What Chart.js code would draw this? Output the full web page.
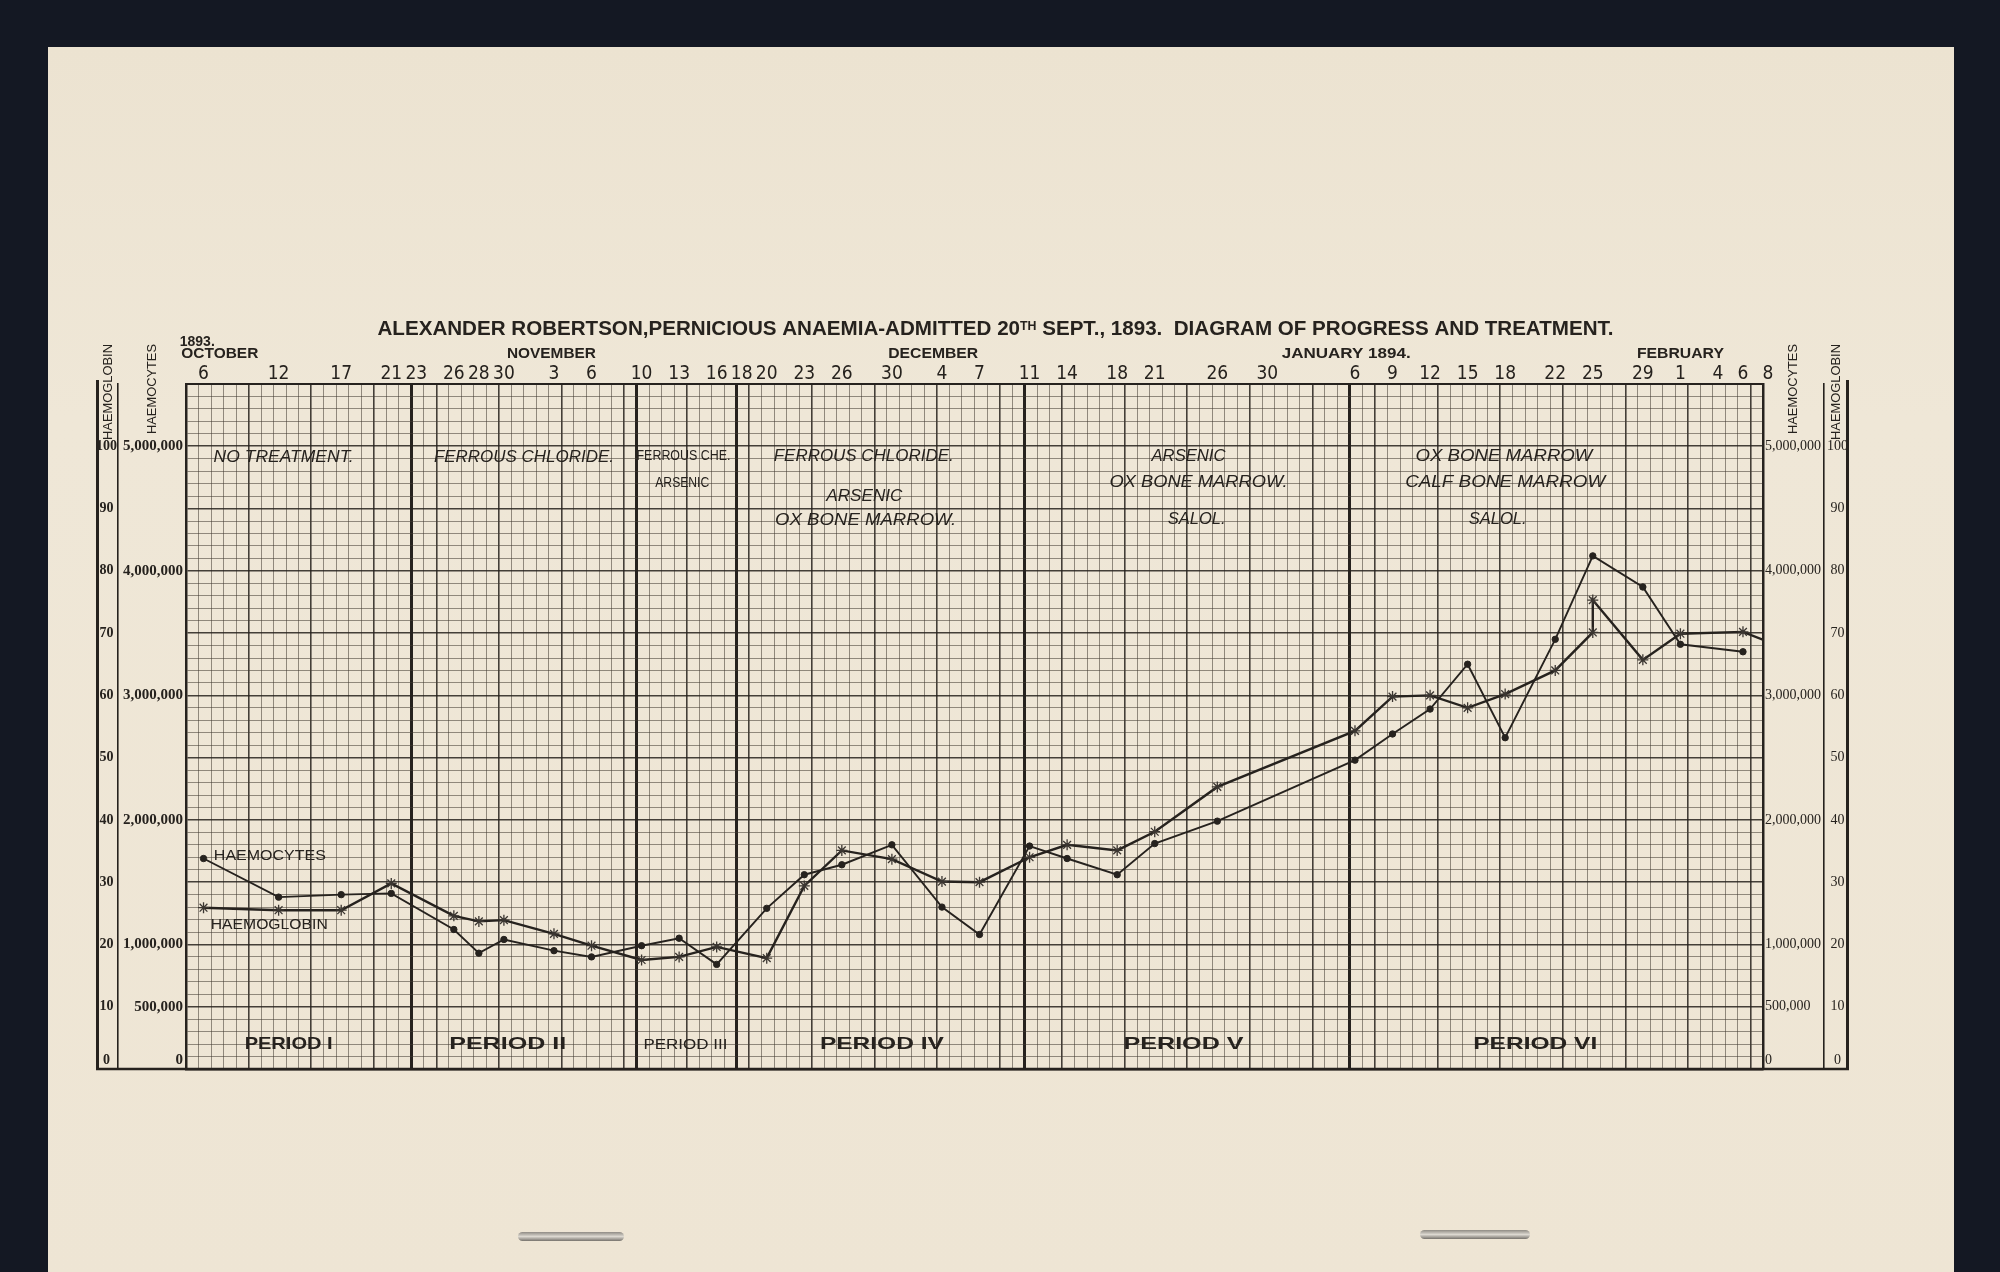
<!DOCTYPE html>
<html>
<head>
<meta charset="utf-8">
<title>Alexander Robertson - Diagram of progress and treatment</title>
<script src="https://cdn.jsdelivr.net/npm/chart.js@4.4.1/dist/chart.umd.min.js"></script>
<style>
  html, body { margin: 0; padding: 0; }
  body { width: 2000px; height: 1272px; overflow: hidden; position: relative; background: #141823; }
  .paper { position: absolute; left: 48px; top: 47px; width: 1906px; height: 1240px;
           background: linear-gradient(180deg, #ece3d1 0%, #efe7d7 30%, #eee5d4 100%); }
  .staple { position: absolute; height: 9px; border-radius: 5px;
            background: linear-gradient(#8f8b84, #dcd8d0 50%, #76726c); }
  #chart { position: absolute; left: 0; top: 0; }
</style>
</head>
<body>
<div class="paper"></div>
<div class="staple" style="left:518px;top:1232px;width:106px"></div>
<div class="staple" style="left:1420px;top:1230px;width:110px"></div>
<canvas id="chart" width="2000" height="1272"></canvas>
<script>
// days are counted from 6 October 1893
const DATE_DAYS = [0, 6, 11, 15, 17, 20, 22, 24, 28, 31, 35, 38, 41, 43, 45, 48, 51, 55, 59, 62,
  66, 69, 73, 76, 81, 85, 92, 95, 98, 101, 104, 108, 111, 115, 118, 121, 123, 125];
const DATE_LABELS = ['6', '12', '17', '21', '23', '26', '28', '30', '3', '6', '10', '13', '16', '18', '20', '23',
  '26', '30', '4', '7', '11', '14', '18', '21', '26', '30', '6', '9', '12', '15', '18', '22', '25', '29',
  '1', '4', '6', '8'];
const MONTH_LABELS = ['1893.', 'OCTOBER', 'NOVEMBER', 'DECEMBER', 'JANUARY 1894.', 'FEBRUARY'];
const MONTH_DAYS = [-0.5, 1.3, 27.8, 58.3, 91.3, 118.0];

const HC_DAYS = [0, 6, 11, 15, 20, 22, 24, 28, 31, 35, 38, 41, 45, 48, 51, 55, 59, 62, 66, 69, 73, 76, 81,
  92, 95, 98, 101, 104, 108, 111, 115, 118, 123];
const HAEMOCYTES = [1690000, 1380000, 1400000, 1410000, 1120000, 930000, 1040000, 950000, 900000, 990000,
  1050000, 840000, 1290000, 1560000, 1640000, 1800000, 1300000, 1080000, 1790000, 1690000, 1560000,
  1810000, 1990000, 2480000, 2690000, 2890000, 3250000, 2660000, 3450000, 4120000, 3870000, 3410000, 3350000];

const HB_DAYS = [0, 6, 11, 15, 20, 22, 24, 28, 31, 35, 38, 41, 45, 48, 51, 55, 59, 62, 66, 69, 73, 76, 81,
  92, 95, 98, 101, 104, 108, 111, 111, 115, 118, 123, 125];
const HAEMOGLOBIN = [25.9, 25.5, 25.5, 29.8, 24.6, 23.7, 23.9, 21.7, 19.8, 17.5, 18.0, 19.6, 17.8, 29.4,
  35.1, 33.7, 30.1, 30.0, 34.0, 36.0, 35.1, 38.1, 45.3, 54.3, 59.8, 60.0, 58.0, 60.2, 64.0, 70.1, 75.3,
  65.7, 69.9, 70.2, 68.6];

const HC_TICKS = [0, 500000, 1000000, 2000000, 3000000, 4000000, 5000000];
const HB_TICKS = [0, 10, 20, 30, 40, 50, 60, 70, 80, 90, 100];
const PERIOD_BOUNDS = [16.6, 34.6, 42.6, 65.6, 91.6];

const PERIOD_NAMES = ['PERIOD I', 'PERIOD II', 'PERIOD III', 'PERIOD IV', 'PERIOD V', 'PERIOD VI'];

// paper grid: one small square per day, 100,000 cells per square
const X_MIN = -1.4;
const X_MAX = X_MIN + 126;
const HC_MAX = 5500000;
const HB_MAX = 110;

const INK = '#26221e';
const BOLD_GRID = 'rgba(38,33,28,0.85)';
const FINE_GRID = 'rgba(66,58,50,0.55)';

const SANS = '"Liberation Sans", Arial, sans-serif';
const SERIF = '"Liberation Serif", "Times New Roman", serif';
const ITALIC = 'italic 17px ' + SANS;
const SMALL = '14px ' + SANS;

const NOTES = [
  { text: 'NO TREATMENT.', day: 6.4, dy: 73, w: 140, font: ITALIC },
  { text: 'FERROUS CHLORIDE.', day: 25.6, dy: 73, w: 180, font: ITALIC },
  { text: 'FERROUS CHE.', day: 38.35, dy: 72, w: 94, font: SMALL },
  { text: 'ARSENIC', day: 38.25, dy: 99, w: 54, font: SMALL },
  { text: 'FERROUS CHLORIDE.', day: 52.75, dy: 72, w: 180, font: ITALIC },
  { text: 'ARSENIC', day: 52.8, dy: 112, w: 76, font: ITALIC },
  { text: 'OX BONE MARROW.', day: 52.9, dy: 136, w: 181, font: ITALIC },
  { text: 'ARSENIC', day: 78.7, dy: 72, w: 74, font: ITALIC },
  { text: 'OX BONE MARROW.', day: 79.5, dy: 98, w: 178, font: ITALIC },
  { text: 'SALOL.', day: 79.35, dy: 135, w: 58, font: ITALIC },
  { text: 'OX BONE MARROW', day: 103.9, dy: 72, w: 177, font: ITALIC },
  { text: 'CALF BONE MARROW', day: 104.0, dy: 98, w: 200, font: ITALIC },
  { text: 'SALOL.', day: 103.4, dy: 135, w: 58, font: ITALIC }
];
const PERIOD_POS = [{ day: 6.8, w: 88 }, { day: 24.3, w: 117 }, { day: 38.5, w: 84 },
  { day: 54.2, w: 124 }, { day: 78.3, w: 120 }, { day: 106.4, w: 124 }];
const MONTH_POS = [{ w: 35, dy: -42 }, { w: 77, dy: -30 }, { w: 89, dy: -30 }, { w: 90, dy: -30 },
  { w: 129, dy: -30 }, { w: 87, dy: -30 }];

function fitText(ctx, text, cx, cy, width, font, rotate) {
  ctx.font = font;
  const w = ctx.measureText(text).width;
  ctx.save();
  ctx.translate(cx, cy);
  if (rotate) ctx.rotate(-Math.PI / 2);
  ctx.scale(width / w, 1);
  ctx.fillText(text, 0, 0);
  ctx.restore();
}

function isBound(v) {
  return PERIOD_BOUNDS.some(b => Math.abs(v - b) < 1e-6);
}

const decor = {
  id: 'decor',
  beforeDatasetsDraw(chart) {
    const { ctx, chartArea: a, scales } = chart;
    const x = scales.x, hc = scales.hc;
    ctx.save();
    ctx.fillStyle = INK;
    ctx.textAlign = 'center';
    ctx.textBaseline = 'middle';
    NOTES.forEach(n => fitText(ctx, n.text, x.getPixelForValue(n.day), a.top + n.dy, n.w, n.font));
    PERIOD_NAMES.forEach((p, i) => {
      const font = i === 2 ? '15px ' + SANS : 'bold 17px ' + SANS;
      fitText(ctx, p, x.getPixelForValue(PERIOD_POS[i].day), a.bottom - 24.5, PERIOD_POS[i].w, font);
    });
    fitText(ctx, 'HAEMOCYTES', x.getPixelForValue(5.3), hc.getPixelForValue(1710000), 112, '14px ' + SANS);
    fitText(ctx, 'HAEMOGLOBIN', x.getPixelForValue(5.25), hc.getPixelForValue(1157000), 117, '14px ' + SANS);
    ctx.restore();
  },
  afterDraw(chart) {
    const { ctx, chartArea: a, scales } = chart;
    const x = scales.x;
    ctx.save();
    ctx.fillStyle = INK;
    ctx.textAlign = 'center';
    ctx.textBaseline = 'middle';

    // title with raised "TH"
    const big = 'bold 20px ' + SANS;
    const small = 'bold 12px ' + SANS;
    const parts = [['ALEXANDER ROBERTSON,PERNICIOUS ANAEMIA-ADMITTED 20', big, 0],
      ['TH', small, -5.5], [' SEPT., 1893.  DIAGRAM OF PROGRESS AND TREATMENT.', big, 0]];
    let total = 0;
    parts.forEach(p => { ctx.font = p[1]; p.push(ctx.measureText(p[0]).width); total += p[3]; });
    const titleW = 1236;
    ctx.save();
    ctx.translate(995.5 - titleW / 2, a.top - 49);
    ctx.scale(titleW / total, 1);
    ctx.textAlign = 'left';
    ctx.textBaseline = 'alphabetic';
    let xx = 0;
    parts.forEach(p => { ctx.font = p[1]; ctx.fillText(p[0], xx, p[2]); xx += p[3]; });
    ctx.restore();

    MONTH_LABELS.forEach((m, i) => {
      fitText(ctx, m, x.getPixelForValue(MONTH_DAYS[i]), a.top + MONTH_POS[i].dy, MONTH_POS[i].w, 'bold 15px ' + SANS);
    });

    // rotated column titles
    const cols = [['HAEMOGLOBIN', scales.hb, 8, 96], ['HAEMOCYTES', scales.hc, 5, 90],
      ['HAEMOCYTES', scales.hcR, 5, 90], ['HAEMOGLOBIN', scales.hbR, 8, 96]];
    cols.forEach(c => {
      const s = c[1];
      fitText(ctx, c[0], (s.left + s.right) / 2, a.top + c[2], c[3], '13px ' + SANS, true);
    });

    // outer frame of the scale columns
    ctx.strokeStyle = INK;
    ctx.lineWidth = 3;
    ctx.beginPath();
    ctx.moveTo(scales.hb.left - 1.5, a.top - 4);
    ctx.lineTo(scales.hb.left - 1.5, a.bottom + 1);
    ctx.moveTo(scales.hbR.right - 0.5, a.top - 4);
    ctx.lineTo(scales.hbR.right - 0.5, a.bottom + 1);
    ctx.stroke();
    ctx.lineWidth = 2.5;
    ctx.beginPath();
    ctx.moveTo(scales.hb.left - 3, a.bottom);
    ctx.lineTo(scales.hbR.right + 1, a.bottom);
    ctx.stroke();
    ctx.restore();
  }
};

const xCells = [];
for (let k = 0; k <= 126; k++) xCells.push({ value: X_MIN + k });
const hcCells = [];
for (let k = 0; k <= 55; k++) hcCells.push({ value: k * 100000 });

function hcLabel(v) {
  if (!HC_TICKS.includes(v)) return '';
  return v === 0 ? ['0', ''] : v.toLocaleString('en-US');
}
function hbLabel(v) {
  return v === 0 ? ['0', ''] : String(v);
}

const hbData = HB_DAYS.map((d, i) => ({ x: d, y: HAEMOGLOBIN[i] }));
const hcData = HC_DAYS.map((d, i) => ({ x: d, y: HAEMOCYTES[i] }));

new Chart(document.getElementById('chart'), {
  type: 'line',
  data: {
    datasets: [
      {
        label: 'Haemocytes',
        data: hcData,
        xAxisID: 'x',
        yAxisID: 'hc',
        borderColor: INK,
        borderWidth: 1.9,
        pointStyle: 'circle',
        pointRadius: 3.2,
        pointBackgroundColor: INK,
        pointBorderColor: INK,
        pointBorderWidth: 1,
        tension: 0
      },
      {
        label: 'Haemoglobin',
        data: hbData,
        xAxisID: 'x',
        yAxisID: 'hb',
        borderColor: INK,
        borderWidth: 2.4,
        pointStyle: 'star',
        pointRadius: c => (c.dataIndex === HB_DAYS.length - 1 ? 0 : 5.5),
        pointBackgroundColor: 'rgba(0,0,0,0)',
        pointBorderColor: '#3b3631',
        pointBorderWidth: 1.3,
        tension: 0
      }
    ]
  },
  options: {
    responsive: false,
    animation: false,
    devicePixelRatio: 1,
    events: [],
    layout: { padding: { left: 99, right: 152, top: 362, bottom: 203 } },
    plugins: { legend: { display: false }, title: { display: false }, tooltip: { enabled: false } },
    scales: {
      x: {
        type: 'linear',
        position: 'bottom',
        min: X_MIN,
        max: X_MAX,
        afterBuildTicks: s => { s.ticks = xCells.map(t => ({ value: t.value })); },
        afterFit: s => { s.height = 0; },
        ticks: { display: false },
        grid: {
          drawTicks: false,
          color: c => (c.tick && isBound(c.tick.value) ? INK : (c.index % 5 === 0 ? BOLD_GRID : FINE_GRID)),
          lineWidth: c => (c.tick && isBound(c.tick.value) ? 3 : (c.index % 5 === 0 ? 1.6 : 1))
        },
        border: { display: true, color: INK, width: 2.5 }
      },
      dates: {
        type: 'linear',
        position: 'top',
        min: X_MIN,
        max: X_MAX,
        afterBuildTicks: s => { s.ticks = DATE_DAYS.map(v => ({ value: v })); },
        afterFit: s => { s.height = 22; },
        ticks: {
          autoSkip: false, maxRotation: 0, minRotation: 0, padding: 0, color: INK,
          font: { family: '"Liberation Sans Narrow", "DejaVu Sans Condensed", "Liberation Sans", sans-serif', size: 19, lineHeight: 1 },
          callback: (v, i) => DATE_LABELS[i]
        },
        grid: { display: false, drawTicks: false },
        border: { display: true, color: INK, width: 2 }
      },
      hc: {
        type: 'linear',
        position: 'left',
        weight: 0,
        min: 0,
        max: HC_MAX,
        afterBuildTicks: s => { s.ticks = hcCells.map(t => ({ value: t.value })); },
        afterFit: s => { s.width = 68; },
        ticks: {
          autoSkip: false, padding: 3, color: INK,
          font: { family: SERIF, size: 15, weight: 'bold' },
          callback: v => hcLabel(v)
        },
        grid: {
          drawTicks: false,
          color: c => (c.tick && c.tick.value % 500000 === 0 ? BOLD_GRID : FINE_GRID),
          lineWidth: c => (c.tick && c.tick.value % 500000 === 0 ? 1.6 : 1)
        },
        border: { display: true, color: INK, width: 2.5 }
      },
      hb: {
        type: 'linear',
        position: 'left',
        weight: 1,
        min: 0,
        max: HB_MAX,
        afterBuildTicks: s => { s.ticks = HB_TICKS.map(v => ({ value: v })); },
        afterFit: s => { s.width = 19; },
        ticks: {
          autoSkip: false, padding: 1, crossAlign: 'center', color: INK,
          font: { family: SERIF, size: 14, weight: 'bold' },
          callback: v => hbLabel(v)
        },
        grid: { display: false, drawTicks: false },
        border: { display: true, color: INK, width: 1.6 }
      },
      hcR: {
        type: 'linear',
        position: 'right',
        weight: 0,
        min: 0,
        max: HC_MAX,
        afterBuildTicks: s => { s.ticks = HC_TICKS.map(v => ({ value: v })); },
        afterFit: s => { s.width = 61; },
        ticks: {
          autoSkip: false, padding: 2, color: INK,
          font: { family: SERIF, size: 14 },
          callback: v => hcLabel(v)
        },
        grid: { display: false, drawTicks: false },
        border: { display: true, color: INK, width: 2.5 }
      },
      hbR: {
        type: 'linear',
        position: 'right',
        weight: 1,
        min: 0,
        max: HB_MAX,
        afterBuildTicks: s => { s.ticks = HB_TICKS.map(v => ({ value: v })); },
        afterFit: s => { s.width = 24; },
        ticks: {
          autoSkip: false, padding: 3, crossAlign: 'center', color: INK,
          font: { family: SERIF, size: 14 },
          callback: v => hbLabel(v)
        },
        grid: { display: false, drawTicks: false },
        border: { display: true, color: INK, width: 1.6 }
      }
    }
  },
  plugins: [decor]
});
</script>
</body>
</html>
